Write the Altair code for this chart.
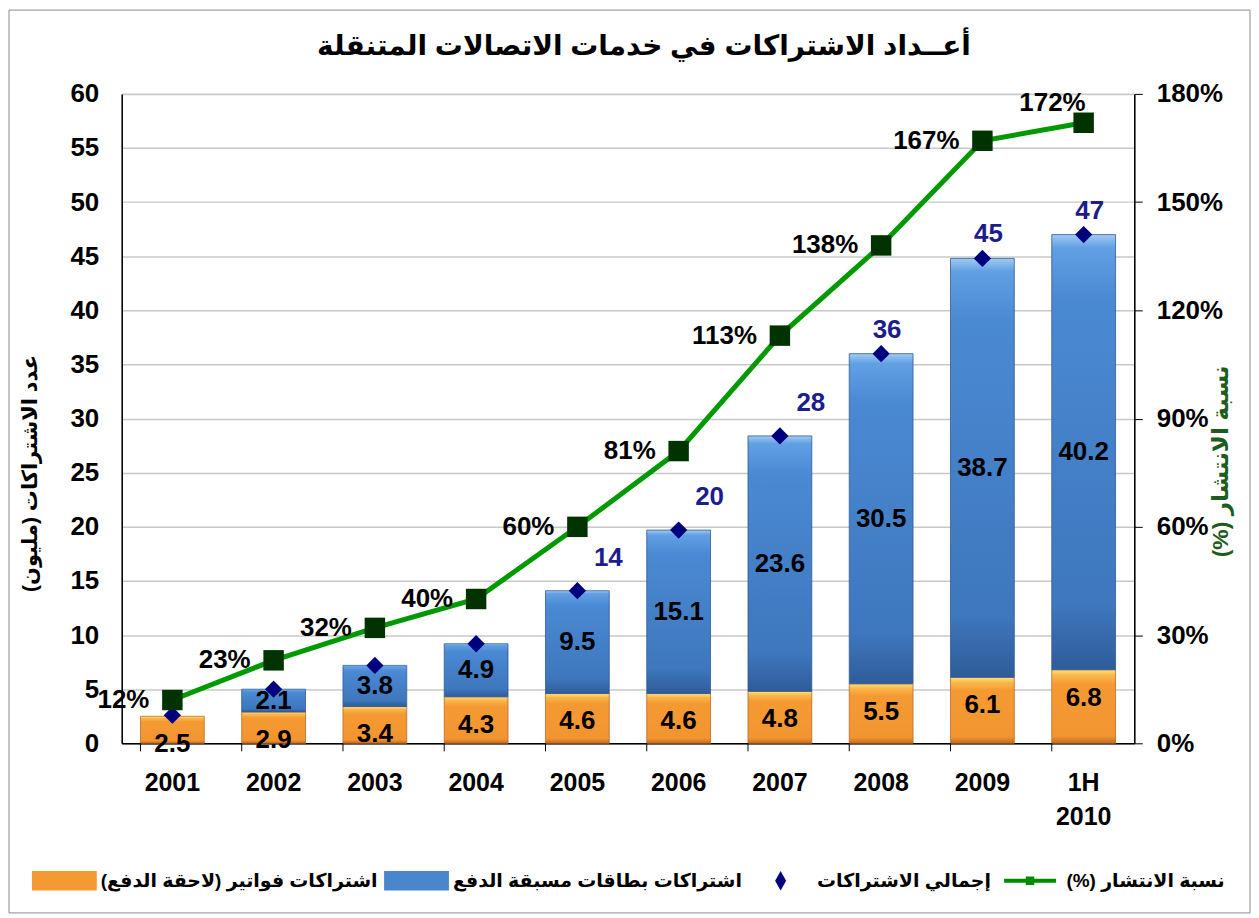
import altair as alt
import pandas as pd

years = ["2001", "2002", "2003", "2004", "2005", "2006", "2007", "2008", "2009", "1H 2010"]
postpaid = [2.5, 2.9, 3.4, 4.3, 4.6, 4.6, 4.8, 5.5, 6.1, 6.8]
prepaid = [0.0, 2.1, 3.8, 4.9, 9.5, 15.1, 23.6, 30.5, 38.7, 40.2]
totals = [2.6, 5.0, 7.2, 9.2, 14.1, 19.7, 28.4, 36.0, 44.8, 47.0]
total_labels = ["", "", "", "", "14", "20", "28", "36", "45", "47"]
penetration = [12, 23, 32, 40, 60, 81, 113, 138, 167, 172]

RLM = "\u200F"
title_text = "أعــداد الاشتراكات في خدمات الاتصالات المتنقلة"
left_title = RLM + "عدد الاشتراكات (مليون)" + RLM
right_title = RLM + "نسبة الانتشار (%)" + RLM
series = [RLM + "اشتراكات فواتير (لاحقة الدفع)" + RLM,
          RLM + "اشتراكات بطاقات مسبقة الدفع" + RLM,
          RLM + "إجمالي الاشتراكات" + RLM,
          RLM + "نسبة الانتشار (%)" + RLM]
series_colors = ["#F39A32", "#4A86CC", "#00007F", "#008A00"]
series_shapes = [
    "M-1,-0.3H1V0.3H-1Z",
    "M-1,-0.3H1V0.3H-1Z",
    "M0,-0.3L0.17,0L0,0.3L-0.17,0Z",
    "M-0.8,-0.065H0.8V0.065H-0.8Z M-0.13,-0.13H0.13V0.13H-0.13Z",
]

FONT = "Liberation Sans, Arial, DejaVu Sans"
W, H = 1015, 651
FS = 26

df = pd.DataFrame({
    "year": years, "post": postpaid, "pre": prepaid, "total": totals,
    "tlabel": total_labels, "pen": penetration, "idx": list(range(len(years))),
})

base = alt.Chart(df)

xscale = alt.Scale(paddingInner=0.37, paddingOuter=0.185)
xaxis = alt.Axis(title=None, labelFontSize=25, labelFontWeight="bold",
                 labelFont=FONT, labelColor="black", labelPadding=27,
                 ticks=False, domainColor="black", domainWidth=1.5,
                 labelAngle=0, labelLineHeight=34,
                 labelExpr="datum.value == '1H 2010' ? ['1H', '2010'] : datum.value")
xenc = alt.X("year:N", sort=years, scale=xscale, axis=xaxis)

lscale = alt.Scale(domain=[0, 60], nice=False)
laxis = alt.Axis(values=list(range(0, 61, 5)), title=left_title,
                 titleFont=FONT, titleFontSize=21, titleFontWeight="bold",
                 titleColor="black", titlePadding=30, titleAngle=270, titleY=380,
                 labelFontSize=FS, labelFontWeight="bold", labelFont=FONT,
                 labelColor="black", labelPadding=23, ticks=False,
                 domainColor="black", domainWidth=1.5,
                 grid=True, gridColor="#C8C8C8", gridWidth=1.5)


def yl(field):
    return alt.Y(field, scale=lscale, axis=laxis, title=left_title)


rscale = alt.Scale(domain=[0, 180], nice=False)
raxis = alt.Axis(orient="right", values=list(range(0, 181, 30)),
                 labelExpr="datum.value + '%'", title=right_title,
                 titleFont=FONT, titleFontSize=23, titleFontWeight="bold",
                 titleColor="#1E5C1E", titleAngle=270, titlePadding=10, titleY=368,
                 labelFontSize=FS, labelFontWeight="bold", labelFont=FONT,
                 labelColor="black", labelPadding=14, tickSize=8,
                 tickColor="black", domainColor="black", domainWidth=1.5,
                 grid=False)
yr = alt.Y("pen:Q", scale=rscale, axis=raxis, title=right_title)

orange = alt.Gradient(gradient="linear", x1=0, x2=0, y1=0, y2=1, stops=[
    alt.GradientStop(offset=0, color="#FFE27E"),
    alt.GradientStop(offset=0.08, color="#FBB64A"),
    alt.GradientStop(offset=0.2, color="#F59A33"),
    alt.GradientStop(offset=0.9, color="#F29530"),
    alt.GradientStop(offset=1, color="#C46C22"),
])
blue = alt.Gradient(gradient="linear", x1=0, x2=0, y1=0, y2=1, stops=[
    alt.GradientStop(offset=0, color="#A2CBF3"),
    alt.GradientStop(offset=0.03, color="#62A0E4"),
    alt.GradientStop(offset=0.15, color="#4A89D3"),
    alt.GradientStop(offset=0.85, color="#3E77BD"),
    alt.GradientStop(offset=1, color="#2F5C9A"),
])

bars_post = base.mark_bar(color=orange, stroke="#B8692A", strokeWidth=0.8).encode(
    x=xenc, y=yl("post:Q"))

bars_pre = base.transform_filter("datum.pre > 0").transform_calculate(
    top="datum.post + datum.pre").mark_bar(
    color=blue, stroke="#2D5A95", strokeWidth=0.8).encode(
    x=xenc, y=yl("post:Q"), y2="top:Q")

text_post = base.mark_text(dy=28, fontSize=FS, fontWeight="bold", font=FONT,
                           color="black", baseline="middle").encode(
    x=xenc, y=yl("post:Q"), text=alt.Text("post:Q", format=".1f"))

text_pre = base.transform_filter("datum.pre > 0").transform_calculate(
    mid="datum.post + datum.pre / 2").mark_text(
    fontSize=FS, fontWeight="bold", font=FONT, color="black", baseline="middle").encode(
    x=xenc, y=yl("mid:Q"), text=alt.Text("pre:Q", format=".1f"))

diamonds = base.mark_point(shape="diamond", filled=True, size=300, color="#00007F",
                           opacity=1).encode(x=xenc, y=yl("total:Q"))

tot_text_a = base.transform_filter("datum.idx >= 4 && datum.idx < 7").mark_text(
    dx=31, dy=-33, fontSize=FS, fontWeight="bold", font=FONT, color="#1C1C8E",
    baseline="middle").encode(x=xenc, y=yl("total:Q"), text="tlabel:N")
tot_text_b = base.transform_filter("datum.idx >= 7").mark_text(
    dx=6, dy=-24, fontSize=FS, fontWeight="bold", font=FONT, color="#1C1C8E",
    baseline="middle").encode(x=xenc, y=yl("total:Q"), text="tlabel:N")

ticks = base.mark_rule(color="black", strokeWidth=1).encode(
    x=alt.X("year:N", sort=years, bandPosition=0, scale=xscale, axis=xaxis),
    y=alt.value(H), y2=alt.value(H + 8))

title_mark = alt.Chart(pd.DataFrame({"t": [title_text]})).mark_text(
    fontSize=28, fontWeight="bold", font=FONT, color="black", baseline="middle",
    align="center").encode(x=alt.value(W / 2 + 16), y=alt.value(-47), text="t:N")

frame = alt.Chart(pd.DataFrame({"f": [1]})).mark_rect(
    filled=False, stroke="#8C8C8C", strokeWidth=1).encode(
    x=alt.value(-113), x2=alt.value(1131), y=alt.value(-84), y2=alt.value(821))

leg = alt.Legend(orient="none", legendX=-90, legendY=756,
                 direction="horizontal", title=None,
                 labelFont=FONT, labelFontSize=19,
                 labelFontWeight="bold", labelColor="black",
                 symbolSize=4225, symbolOpacity=1,
                 symbolStrokeWidth=0, columnPadding=6,
                 labelOffset=4, padding=0, labelLimit=400)
legend_layer = alt.Chart(pd.DataFrame({"series": series})).mark_point(
    filled=True, opacity=0).encode(
    x=alt.value(0), y=alt.value(0),
    color=alt.Color("series:N", sort=series,
                    scale=alt.Scale(domain=series, range=series_colors), legend=leg),
    shape=alt.Shape("series:N", sort=series,
                    scale=alt.Scale(domain=series, range=series_shapes), legend=leg),
)

left = alt.layer(bars_post, bars_pre, text_post, text_pre, diamonds, tot_text_a,
                 tot_text_b, ticks, title_mark, frame, legend_layer)

line = base.mark_line(color="#009A00", strokeWidth=5).encode(x=xenc, y=yr)
squares = base.mark_square(size=420, color="#003300", opacity=1).encode(x=xenc, y=yr)
pen_text = base.transform_calculate(label="datum.pen + '%'").transform_filter(
    "datum.idx < 9").mark_text(
    align="right", dx=-23, dy=0, fontSize=FS, fontWeight="bold", font=FONT,
    color="black", baseline="middle").encode(x=xenc, y=yr, text="label:N")
pen_text_last = base.transform_calculate(label="datum.pen + '%'").transform_filter(
    "datum.idx == 9").mark_text(
    align="right", dx=2, dy=-20, fontSize=FS, fontWeight="bold", font=FONT,
    color="black", baseline="middle").encode(x=xenc, y=yr, text="label:N")

right = alt.layer(line, squares, pen_text, pen_text_last)

chart = alt.layer(left, right).resolve_scale(y="independent").properties(
    width=W, height=H, padding=0, background="white"
).configure_view(stroke="#8C8C8C", strokeWidth=1)

chart.save("out.html", embed_options={"renderer": "svg", "actions": False})
